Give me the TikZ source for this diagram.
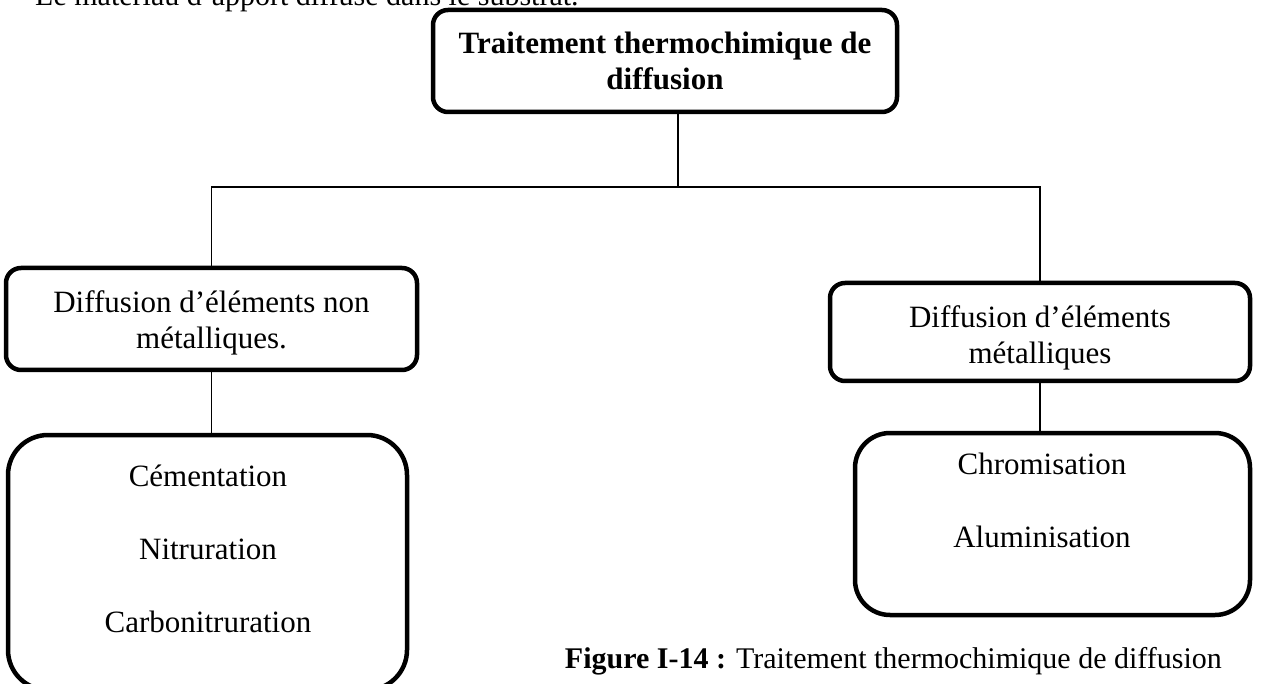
\documentclass[tikz,border=0pt]{standalone}
\usepackage{fontspec}
\setmainfont{Liberation Serif}
\newcommand{\lift}[1]{\rule{0pt}{#1}}
\begin{document}
\begin{tikzpicture}[x=1pt,y=-1pt,
  box/.style={draw, line width=4.5pt, rounded corners=15pt, inner sep=0pt,
    align=center, font=\fontsize{31}{36}\selectfont},
  bigbox/.style={draw, line width=4.5pt, rounded corners=40pt, inner sep=0pt},
  listtext/.style={align=center, inner sep=0pt, font=\fontsize{31}{73}\selectfont},
  bodytext/.style={inner sep=0pt, font=\fontsize{30}{36}\selectfont},
  link/.style={line width=1.5pt}]
\clip (0,0) rectangle (1261,684);
\fill[white] (0,0) rectangle (1261,684);

% last line of the preceding paragraph
\node[bodytext, anchor=base west] (intro) at (35,6)
  {Le matériau d’apport diffusé dans le substrat.};

% root
\node[box, minimum width=464pt, minimum height=102pt,
  font=\bfseries\fontsize{31}{36}\selectfont] (root) at (665,61)
  {Traitement thermochimique de\\diffusion};

% second level
\node[box, minimum width=411pt, minimum height=102pt] (nonmet) at (211.5,319)
  {\lift{29pt}Diffusion d’éléments non\\métalliques.};
\node[box, minimum width=420pt, minimum height=98pt] (met) at (1040,332)
  {\lift{33pt}Diffusion d’éléments\\métalliques};

% third level
\node[bigbox, minimum width=399pt, minimum height=255pt] (lowL) at (207.5,562.5) {};
\node[listtext] (listL) at (208,549) {Cémentation\\Nitruration\\Carbonitruration};
\node[bigbox, rounded corners=35pt, minimum width=395pt, minimum height=182pt] (lowR) at (1052.5,524) {};
\node[listtext] (listR) at (1042,500) {Chromisation\\Aluminisation};

% connectors
\coordinate (fork) at (678,187);
\draw[link] (root.south -| fork) -- (fork);
\draw[link] (nonmet.north) |- (met.north |- fork) -- (met.north);
\draw[link] (nonmet.south) -- (nonmet.south |- lowL.north);
\draw[link] (met.south) -- (met.south |- lowR.north);

% caption
\node[bodytext, anchor=base east] (caption) at (1222,668)
  {\textbf{Figure I-14 :} Traitement thermochimique de diffusion};
\end{tikzpicture}
\end{document}
